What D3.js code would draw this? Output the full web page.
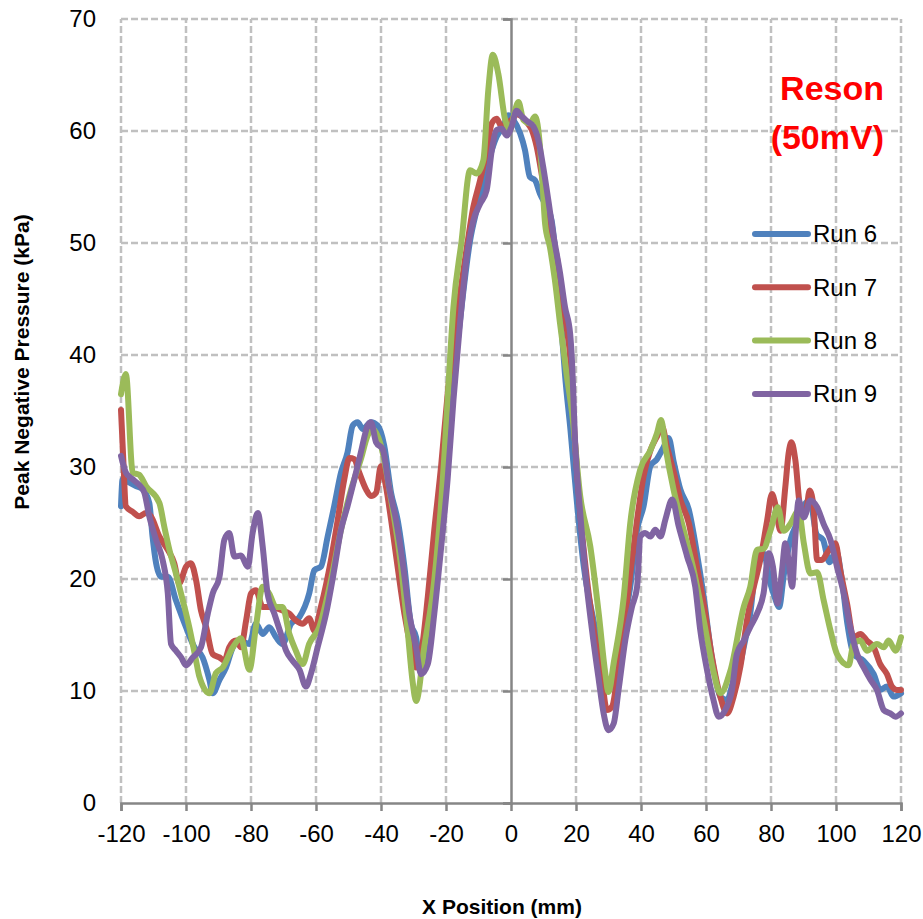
<!DOCTYPE html>
<html>
<head>
<meta charset="utf-8">
<script src="https://cdn.jsdelivr.net/npm/d3@7"></script>
<style>
  body { margin: 0; background: #fff; }
  svg { display: block; font-family: 'Liberation Sans', Arial, sans-serif; }
  .grid line { stroke: #c0c0c0; stroke-width: 2.5; stroke-dasharray: 7 3; }
  .run { fill: none; stroke-width: 6; stroke-linejoin: round; stroke-linecap: round; }
</style>
</head>
<body>
<script>
// x position (mm), peak negative pressure (kPa)
const run6 = [[-120,26.5],[-119.5,28.9],[-117.4,28.6],[-115.4,28.3],[-113.3,28],[-111.3,26.8],[-110.3,23.8],[-109.2,21.4],[-107.7,20.2],[-105.6,20.2],[-103.1,18.1],[-100,15.7],[-97.4,13.9],[-94.9,13],[-92.8,11],[-91.8,9.8],[-89.7,11],[-87.7,12.1],[-85.6,13.9],[-83.6,14.5],[-80.5,14.2],[-78.5,16],[-76.4,15.1],[-74.4,15.7],[-72.3,14.8],[-70.3,14.2],[-67.7,16],[-65.1,16.6],[-62.1,18.7],[-60.5,20.8],[-58.5,21.1],[-56.4,23.8],[-54.4,26.5],[-52.3,29.5],[-50.3,31.3],[-48.7,33.7],[-47.2,34],[-45.6,33.4],[-43.1,34],[-41,33.7],[-39,31.9],[-36.9,27.7],[-34.9,25.3],[-32.8,21.1],[-30.8,16],[-29.2,14.8],[-27.7,11.8],[-25.6,13.9],[-23.6,18.4],[-21.5,23.5],[-19.5,30],[-17.8,37],[-15.2,44.3],[-12.6,50.2],[-10.6,52.9],[-8.5,55.3],[-6.5,57.7],[-4.4,59.5],[-2.4,60.4],[-0.8,61.4],[0.7,61],[2.8,59.8],[4.3,58.3],[5.8,55.9],[7.4,55.6],[8.9,54.4],[11,53.2],[12.5,52],[13.5,49.6],[14.6,45.8],[15.6,42.2],[16.6,38.3],[18.3,33.3],[20.3,26.8],[22.4,21.1],[25.4,16.3],[28.5,11.9],[30,10.1],[32.1,11.6],[34.2,15.5],[36.7,19.3],[38.8,24.4],[40.8,26.5],[42.9,30.1],[44.9,30.7],[47,31.8],[48.5,32.6],[50.1,30.4],[52.1,28],[54.7,26.2],[57.2,22.3],[59.3,18.4],[61.8,13],[64.4,9.5],[66.5,9.2],[68.5,11],[70.6,12.5],[71.6,13.9],[73.6,16.9],[75.7,21.7],[77.7,22.3],[79.8,19.6],[81,18.5],[82.5,17.5],[84,20.5],[86,23.5],[88,25],[90,26.5],[92,27],[94,24],[96,23.5],[98,21.5],[100,22.5],[102,19.5],[103.5,16],[105.4,13.3],[108.5,12.7],[111.6,11.5],[113.6,10.1],[115.7,10.4],[117.7,9.5],[120,9.8]]

const run7 = [[-120,35.1],[-119.3,30.7],[-118.5,26.5],[-116.4,26],[-114.4,25.6],[-112.3,25.9],[-110.8,25.6],[-108.2,23.8],[-105.6,22.6],[-103.6,21.4],[-102.1,19.6],[-100,21.1],[-98.5,21.4],[-96.9,19.9],[-95.4,17.2],[-93.8,15.7],[-91.8,13.3],[-89.7,13],[-88.2,12.7],[-86.7,13.9],[-84.6,14.5],[-83.1,13.9],[-81.5,16.3],[-80,18.7],[-78.5,19],[-76.4,17.5],[-74.4,17.5],[-72.3,17.4],[-70.3,17.2],[-68.2,16.9],[-66.2,16.3],[-64.1,16],[-62.1,16.5],[-60.5,15.4],[-58.5,17.5],[-55.4,21.7],[-53.3,25.3],[-51.3,28.9],[-49.7,30.8],[-48.2,30.7],[-46.7,29.5],[-44.6,28],[-43.1,27.4],[-41.5,27.7],[-40,30.1],[-38.5,28.3],[-36.9,25.3],[-34.9,21.1],[-32.8,16.9],[-30.8,13.9],[-29.2,12.1],[-27.7,13.3],[-25.6,18.4],[-23.6,24.4],[-21.5,30.1],[-19.5,36.5],[-16.2,44.3],[-13.6,49.6],[-11.6,53.2],[-9.5,55.6],[-7.5,58.3],[-5.9,60.7],[-4.4,61.1],[-2.9,60.4],[-1.3,60.7],[0.2,61],[1.7,61.5],[3.3,61.3],[4.8,60.8],[6.4,60.1],[7.9,58.6],[9.4,56.2],[11,53.2],[12.5,50.5],[14.1,48.8],[15.6,45.2],[17.1,42.5],[18.2,39.8],[19.3,34],[21.3,25.9],[23.4,19.9],[25.9,14.6],[28,11],[29.5,8.3],[31.1,8.6],[32.6,11],[34.7,15.5],[36.7,20.5],[38.8,25.3],[40.8,29.2],[42.9,31.5],[44.9,32.7],[46.5,33.6],[48,31.8],[50.1,29.5],[52.1,27.1],[54.7,25],[57.2,21.1],[59.3,17.8],[61.8,13.1],[64.4,9.5],[66.5,8],[68.5,9.5],[70.6,12.2],[72.6,16.3],[74.7,19.3],[76.7,21.7],[78.8,25.2],[80.3,27.6],[81.3,26.7],[82.9,24.3],[84.4,28.2],[85.4,31.2],[86.3,32.2],[87.5,30.6],[89,26.4],[90.6,25.8],[91.9,27.9],[93.1,26.4],[94.2,21.7],[95.7,21.7],[97.2,22.3],[99.8,23.2],[101.3,20.8],[103.4,17.8],[105.4,14.8],[107.5,15.1],[109.5,14.5],[111.6,13.9],[113.6,12.4],[115.7,11.5],[117.2,10.4],[118.7,10.1],[120,10.1]]

const run8 = [[-120,36.5],[-118.5,38.3],[-116.4,29.5],[-114.4,29.3],[-112.3,28.3],[-108.2,26.8],[-106.7,24.7],[-105.1,22.6],[-103.1,20.5],[-101,18.1],[-99,15.7],[-96.9,12.7],[-95.9,11.3],[-92.8,9.8],[-90.8,11.6],[-88.7,12.1],[-85.6,13.9],[-83.1,14.7],[-80.5,11.9],[-78.5,15.7],[-76.4,19.3],[-74.4,18.7],[-72.3,17.5],[-70.3,17.5],[-68.2,15.1],[-66.2,13.6],[-64.1,12.4],[-62.1,14.2],[-59,15.7],[-55.4,19.9],[-52.3,24.4],[-49.2,28],[-46.2,30.7],[-44.1,32.8],[-42.6,33.4],[-40,31.9],[-36.9,27.1],[-33.8,21.1],[-31.8,15.4],[-30.3,10.9],[-29.2,9.1],[-26.7,13.9],[-23.6,19.9],[-20.5,31],[-19.5,36],[-17.7,44.3],[-15.2,50.2],[-12.6,56.5],[-10.6,56.2],[-8.5,57.4],[-7,63.6],[-5.6,66.8],[-3.9,65.1],[-1.8,61],[-0.3,60.1],[1.2,61.8],[2.3,62.6],[3.8,61],[5.8,60.7],[7.4,61.3],[8.4,60.1],[9.4,56.8],[10.5,51.7],[12,49.6],[13.5,46.7],[15.1,42.8],[17.1,38.3],[18.8,34.8],[21.3,27.4],[24.4,22.9],[27,16.9],[29,11.6],[30,9.9],[31.6,12.5],[34.7,18.4],[36.7,25],[39.8,29.8],[42.9,31.5],[44.9,33],[46.2,34.2],[47.5,31.8],[50,28],[53.1,24.4],[56.2,20.8],[59.3,16.3],[62.4,11.6],[64.4,9.8],[67.5,11.8],[71.6,17.5],[73.6,19.3],[75.7,22.6],[77.7,22.7],[79.8,24.3],[82.1,26.4],[83.9,24.3],[85.9,24.9],[88.5,26.1],[90.1,23.2],[92.1,20.5],[94.2,20.6],[96.2,18.1],[98.3,15.4],[100.3,13.3],[103.9,12.3],[105.4,14.2],[107.5,14.5],[109.5,13.6],[112.6,14.2],[114.7,13.9],[116.2,14.5],[118.3,13.6],[120,14.8]]

const run9 = [[-120,31],[-118.5,29.5],[-116.4,28.9],[-114.4,28.4],[-112.8,27.7],[-111.3,25.6],[-109.2,23.5],[-107.2,21.7],[-105.6,18.7],[-104.6,14.2],[-103.1,13.6],[-101.5,13],[-100,12.3],[-97.9,13],[-95.4,13.9],[-93.3,16.9],[-91.8,18.7],[-89.7,20.2],[-88.2,23.5],[-86.7,24.1],[-85.1,22],[-83.1,22.1],[-81,21.1],[-79.5,24.1],[-77.9,25.9],[-76.4,22.9],[-74.9,18.7],[-72.8,16.9],[-70.8,15.1],[-69.2,13.6],[-67.2,12.7],[-65.1,11.9],[-63.1,10.4],[-61.5,11.6],[-59.5,13.9],[-56.9,16.9],[-54.4,20.8],[-52.3,24.4],[-50.3,26.5],[-48.2,28.9],[-46.2,31.3],[-44.1,33.7],[-43.1,34],[-41.5,32.2],[-39.5,31.6],[-37.4,28],[-35.4,25.3],[-33.3,21.4],[-31.3,16.9],[-29.2,13.9],[-27.7,11.5],[-25.6,12.4],[-23.6,16.9],[-21.5,22.8],[-19.5,28.9],[-17.7,36],[-15.7,42.8],[-13.6,48.8],[-11.6,52],[-9.5,53.5],[-7.5,54.7],[-5.9,58.3],[-4.4,60.1],[-2.9,60.2],[-1.3,59.6],[0.2,60.4],[1.7,61.8],[3.3,61.3],[5.3,60.8],[6.9,60.4],[8.4,59.2],[9.9,56.8],[11.5,53.8],[13,50.8],[15.1,47.3],[16.6,44.3],[18.2,41.9],[18.7,39.8],[19.8,31.8],[21.3,25.9],[22.9,20.5],[24.9,15.5],[27,11],[28.5,8],[30,6.5],[31.6,7.1],[33.1,10.1],[35.2,14.6],[37.2,17.5],[38.8,19.3],[39.8,23.8],[41.3,24.1],[42.9,23.8],[44.4,24.4],[46,23.8],[47.5,25.3],[49.6,27.1],[51.6,24.7],[54.2,22],[56.7,19.3],[58.2,15.5],[60.3,11.9],[62.3,9.2],[63.9,7.7],[65.9,8.3],[68,10.1],[69.5,13.3],[71.6,14.5],[73.6,15.7],[75.7,16.9],[77.7,18.7],[79.3,22.3],[80.6,21.1],[82,17.8],[83.4,20.8],[84.4,23.2],[85.4,21.7],[86.5,19.3],[87.5,23.8],[88.5,27],[90.1,25.5],[92.1,27],[94.2,26.4],[96.2,24.9],[98.3,23.5],[100.3,21.1],[102.4,18.7],[104.4,15.7],[106.5,13.3],[108.5,12.1],[110.6,11],[112.6,10.1],[114.7,8.3],[116.7,8],[118.3,7.7],[120,8]]

const runNames = ['Run 6', 'Run 7', 'Run 8', 'Run 9']
const runColors = ['#4f81bd', '#c0504d', '#9bbb59', '#8064a2']
const xTicks = d3.range(-120, 121, 20)
const yTicks = d3.range(0, 71, 10)

const width = 923
const height = 919

const x = d3.scaleLinear().domain([-120, 120]).range([121, 901])
const y = d3.scaleLinear().domain([0, 70]).range([803, 19])

const svg = d3.select('body')
  .append('svg')
  .attr('width', width)
  .attr('height', height)

// dashed grid
const grid = svg.append('g').attr('class', 'grid')

grid.selectAll('.gy')
  .data(yTicks.filter(d => d > 0))
  .enter()
  .append('line')
  .attr('x1', x(-120))
  .attr('x2', x(120))
  .attr('y1', d => y(d))
  .attr('y2', d => y(d))

grid.selectAll('.gx')
  .data(xTicks.filter(d => d !== 0))
  .enter()
  .append('line')
  .attr('x1', d => x(d))
  .attr('x2', d => x(d))
  .attr('y1', y(0))
  .attr('y2', y(70))

// axes cross at 0,0
const xAxis = svg.append('g')
  .attr('transform', `translate(0,${y(0)})`)
  .call(d3.axisBottom(x).tickValues(xTicks).tickSize(8).tickPadding(14).tickFormat(d => String(d)))

const yAxis = svg.append('g')
  .attr('transform', `translate(${x(0)},0)`)
  .call(d3.axisLeft(y).tickValues(yTicks).tickSize(8).tickFormat(''))

;[xAxis, yAxis].forEach(a => {
  a.select('.domain').attr('stroke', '#868686').attr('stroke-width', 2.5)
  a.selectAll('.tick line').attr('stroke', '#868686').attr('stroke-width', 2.5)
})

xAxis.selectAll('.tick text')
  .attr('font-size', 24)
  .attr('font-family', "'Liberation Sans', Arial, sans-serif")
  .attr('fill', '#000')

// y labels sit at the left of the plot
svg.append('g')
  .selectAll('text')
  .data(yTicks)
  .enter()
  .append('text')
  .attr('x', 96)
  .attr('y', d => y(d))
  .attr('dy', '0.35em')
  .attr('text-anchor', 'end')
  .attr('font-size', 24)
  .text(d => d)

const line = d3.line()
  .x(d => x(d[0]))
  .y(d => y(d[1]))
  .curve(d3.curveMonotoneX)

svg.append('g')
  .selectAll('path')
  .data([run6, run7, run8, run9])
  .enter()
  .append('path')
  .attr('class', 'run')
  .attr('stroke', (d, i) => runColors[i])
  .attr('d', line)

// legend
const legend = svg.append('g')
  .selectAll('g')
  .data(runNames)
  .enter()
  .append('g')
  .attr('transform', (d, i) => `translate(755,${234 + i * 53.3})`)

legend.append('line')
  .attr('x1', 0)
  .attr('x2', 53)
  .attr('stroke', (d, i) => runColors[i])
  .attr('stroke-width', 6)
  .attr('stroke-linecap', 'round')

legend.append('text')
  .attr('x', 58)
  .attr('dy', '0.35em')
  .attr('font-size', 24)
  .text(d => d)

svg.append('text')
  .attr('x', 884)
  .attr('y', 100)
  .attr('text-anchor', 'end')
  .attr('font-size', 34)
  .attr('font-weight', 'bold')
  .attr('fill', '#ff0000')
  .text('Reson')

svg.append('text')
  .attr('x', 884)
  .attr('y', 149)
  .attr('text-anchor', 'end')
  .attr('font-size', 34)
  .attr('font-weight', 'bold')
  .attr('fill', '#ff0000')
  .text('(50mV)')

svg.append('text')
  .attr('x', 502)
  .attr('y', 914)
  .attr('text-anchor', 'middle')
  .attr('font-size', 21)
  .attr('font-weight', 'bold')
  .text('X Position (mm)')

svg.append('text')
  .attr('transform', 'translate(29,362) rotate(-90)')
  .attr('text-anchor', 'middle')
  .attr('font-size', 21)
  .attr('font-weight', 'bold')
  .text('Peak Negative Pressure (kPa)')
</script>
</body>
</html>
